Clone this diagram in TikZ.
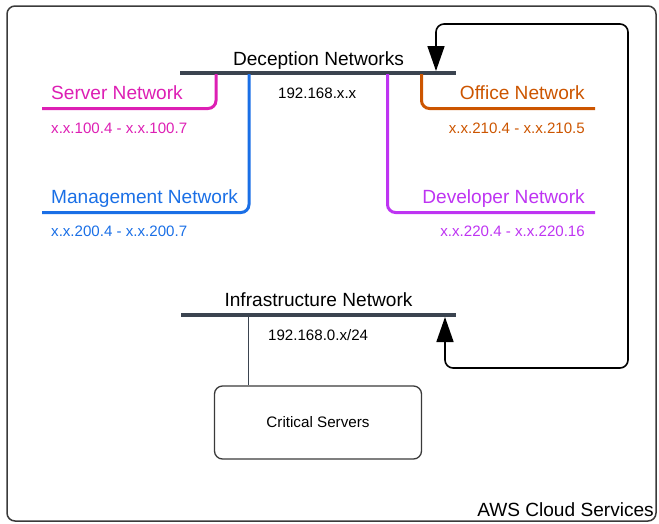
\documentclass[tikz,border=0pt]{standalone}
\usepackage{fontspec}
\setmainfont{Liberation Sans}
\usetikzlibrary{arrows.meta}
\definecolor{busgray}{HTML}{3B4450}
\definecolor{framegray}{HTML}{3A3A3A}
\definecolor{srvcol}{HTML}{DD1FB4}
\definecolor{mgmtcol}{HTML}{1A6FE6}
\definecolor{offcol}{HTML}{CC5500}
\definecolor{devcol}{HTML}{BE34F2}
\tikzset{
  bus/.style={line width=4pt, draw=busgray},
  branch/.style={line width=3pt, rounded corners=8pt},
  biglabel/.style={font=\fontsize{19.1}{21}\selectfont, inner sep=0pt},
  smalllabel/.style={font=\fontsize{15.1}{17}\selectfont, inner sep=0pt},
  loopline/.style={line width=1.6pt, draw=black, rounded corners=8pt,
    {Triangle[length=25pt,width=17pt]}-{Triangle[length=25pt,width=17pt]}},
}
\begin{document}
\begin{tikzpicture}[x=1pt,y=-1pt]
\useasboundingbox (0,0) rectangle (659,523);
\draw[framegray, line width=1.5pt, rounded corners=8pt] (7,6) rectangle (656,521);

% buses
\coordinate (decL) at (180,73);
\coordinate (decR) at (456,73);
\coordinate (infL) at (181,315);
\coordinate (infR) at (456,315);
\draw[bus] (decL) -- (decR);
\draw[bus] (infL) -- (infR);

\node[biglabel, anchor=base] (declbl) at (318.5,65) {Deception Networks};
\node[smalllabel, anchor=base west] (decip) at (278,98.5) {192.168.x.x};
\node[biglabel, anchor=base] (inflbl) at (318.5,306.5) {Infrastructure Network};
\node[smalllabel, anchor=base west] (infip) at (268,340) {192.168.0.x/24};

% branches
\coordinate (srvTop) at (216,74);
\coordinate (srvEnd) at (42,108.5);
\draw[branch, srvcol] (srvTop) |- (srvEnd);
\node[biglabel, anchor=base west, text=srvcol] (srvlbl) at (51,99.5) {Server Network};
\node[smalllabel, anchor=base west, text=srvcol] (srvrng) at (51,133) {x.x.100.4 - x.x.100.7};

\coordinate (mgmtTop) at (249,74);
\coordinate (mgmtEnd) at (42,212.5);
\draw[branch, mgmtcol] (mgmtTop) |- (mgmtEnd);
\node[biglabel, anchor=base west, text=mgmtcol] (mgmtlbl) at (51,203.5) {Management Network};
\node[smalllabel, anchor=base west, text=mgmtcol] (mgmtrng) at (51,236.5) {x.x.200.4 - x.x.200.7};

\coordinate (offTop) at (421.5,74);
\coordinate (offEnd) at (595,108.5);
\draw[branch, offcol] (offTop) |- (offEnd);
\node[biglabel, anchor=base east, text=offcol] (offlbl) at (585,99.5) {Office Network};
\node[smalllabel, anchor=base east, text=offcol] (offrng) at (585,133) {x.x.210.4 - x.x.210.5};

\coordinate (devTop) at (387.5,74);
\coordinate (devEnd) at (595,212.5);
\draw[branch, devcol] (devTop) |- (devEnd);
\node[biglabel, anchor=base east, text=devcol] (devlbl) at (585,203.5) {Developer Network};
\node[smalllabel, anchor=base east, text=devcol] (devrng) at (585,236.5) {x.x.220.4 - x.x.220.16};

% loop arrow
\coordinate (arrInf) at (445,317);
\coordinate (arrDec) at (436,71);
\draw[loopline] (arrInf) -- (445,368) -- (628,368) -- (628,24) -- (436,24) -- (arrDec);

% critical servers
\node[draw=framegray, line width=1.3pt, rounded corners=8pt, minimum width=207pt, minimum height=73pt,
  font=\fontsize{15.2}{17}\selectfont] (crit) at (318,422.5) {Critical Servers};
\coordinate (infTap) at (248.3,317);
\draw[busgray, line width=1.5pt] (infTap) -- (infTap |- crit.north);

\node[biglabel, anchor=base east] (aws) at (654,516.5) {AWS Cloud Services};
\end{tikzpicture}
\end{document}
